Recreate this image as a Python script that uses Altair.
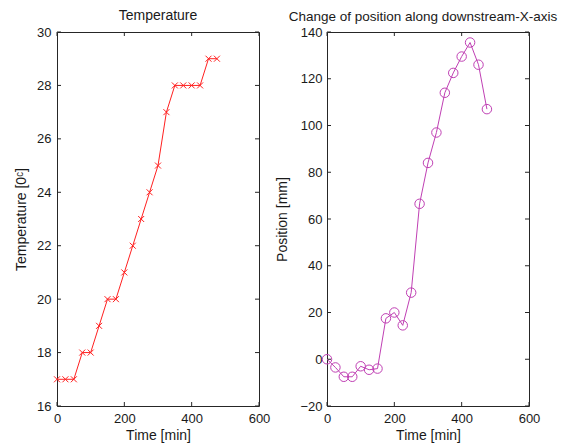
import altair as alt
import pandas as pd

# ---- data ----
time_min = [0, 25, 50, 75, 100, 125, 150, 175, 200, 225, 250, 275, 300, 325,
            350, 375, 400, 425, 450, 475]
temperature = [17, 17, 17, 18, 18, 19, 20, 20, 21, 22, 23, 24, 25, 27,
               28, 28, 28, 28, 29, 29]
position = [0, -3.5, -7.5, -7.5, -3, -4.5, -4, 17.5, 20, 14.5, 28.5, 66.5,
            84, 97, 114, 122.5, 129.5, 135.5, 126, 107]

x_ticks = [0, 200, 400, 600]
temp_ticks = [16, 18, 20, 22, 24, 26, 28, 30]
pos_ticks = [-20, 0, 20, 40, 60, 80, 100, 120, 140]

W, H = 202, 374
FONT = "Liberation Sans"
FRAME = "#262626"
TXT = "#1a1a1a"
TICK = 4

df = pd.DataFrame({"t": time_min, "temp": temperature, "pos": position})


def panel(field, color, shape, size, ydomain, yticks, ytitle, title, title_size,
          title_dx, ylabel_pad, ytitle_pad):
    def X(f):
        return alt.X(f"{f}:Q", scale=alt.Scale(domain=[0, 600], nice=False, zero=False),
                     axis=alt.Axis(values=x_ticks, title="Time [min]", ticks=False, tickSize=0,
                                   domain=False, grid=False, labelPadding=6, titlePadding=3,
                                   labelFlush=False, format="d", labelFont=FONT,
                                   titleFont=FONT, labelFontSize=13, titleFontSize=14,
                                   labelColor=TXT, titleColor=TXT, titleFontWeight="normal"))

    def Y(f):
        return alt.Y(f"{f}:Q", scale=alt.Scale(domain=ydomain, nice=False, zero=False),
                     axis=alt.Axis(values=yticks, title=ytitle, ticks=False, tickSize=0,
                                   domain=False, grid=False, labelPadding=ylabel_pad,
                                   labelFlush=False, titlePadding=ytitle_pad, format="d",
                                   labelFont=FONT, titleFont=FONT, labelFontSize=13,
                                   titleFontSize=14, labelColor=TXT, titleColor=TXT,
                                   titleFontWeight="normal"))

    base = alt.Chart(df)
    line = base.mark_line(color=color, strokeWidth=1).encode(x=X("t"), y=Y(field))
    pts = base.mark_point(shape=shape, size=size, color=color, filled=False,
                          strokeWidth=1, opacity=1).encode(x=X("t"), y=Y(field))

    xt = alt.Chart(pd.DataFrame({"v": x_ticks}))
    yt = alt.Chart(pd.DataFrame({"v": yticks}))
    tick_style = dict(color=FRAME, strokeWidth=1)
    xb = xt.mark_rule(**tick_style).encode(x=X("v"), y=alt.value(H), y2=alt.value(H - TICK))
    xtop = xt.mark_rule(**tick_style).encode(x=X("v"), y=alt.value(0), y2=alt.value(TICK))
    yl = yt.mark_rule(**tick_style).encode(y=Y("v"), x=alt.value(0), x2=alt.value(TICK))
    yr = yt.mark_rule(**tick_style).encode(y=Y("v"), x=alt.value(W), x2=alt.value(W - TICK))

    return alt.layer(xb, xtop, yl, yr, line, pts).properties(
        width=W, height=H,
        title=alt.TitleParams(title, fontSize=title_size, font=FONT, fontWeight="normal",
                              color=TXT, offset=3, dx=title_dx),
    )


left = panel("temp", "#ff2020", "M-1,-1L1,1M-1,1L1,-1", 36, [16, 30], temp_ticks,
             "Temperature [0ᶜ]", "Temperature", 14, 0, 6, 8)
right = panel("pos", "#c040b4", "circle", 90, [-20, 140], pos_ticks,
              "Position [mm]", "Change of position along downstream-X-axis", 13.5, -5, 5, 10)

chart = alt.hconcat(left, right, spacing=4).properties(
    padding={"left": 6, "top": 0, "right": 0, "bottom": 0}
).configure_view(
    stroke=FRAME, strokeWidth=1
)

chart.save("out.html", embed_options={"renderer": "svg", "actions": False})
